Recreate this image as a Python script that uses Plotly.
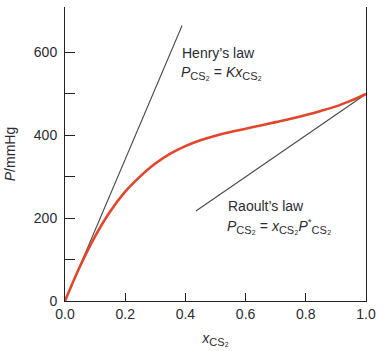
import plotly.graph_objects as go

# Vapour pressure of CS2 over a CS2 solution vs. its mole fraction
x_cs2 = [0.0, 0.05, 0.10, 0.15, 0.20, 0.25, 0.30, 0.35, 0.40, 0.45, 0.50,
         0.55, 0.60, 0.65, 0.70, 0.75, 0.80, 0.85, 0.90, 0.95, 1.0]
p_cs2 = [0, 84, 156, 216, 264, 301, 332, 356, 374, 388, 399,
         408, 416, 424, 432, 440, 449, 459, 470, 484, 500]

# Henry's law limiting line P = K x (ideal-dilute) and Raoult's law P = x P*
henry_K = 1710
henry_x = [0.0, 0.389]
raoult_pstar = 500
raoult_x = [0.435, 1.0]

x_ticks = [0.0, 0.2, 0.4, 0.6, 0.8, 1.0]
y_ticks = [0, 100, 200, 300, 400, 500, 600]
y_ticktext = ["0", "", "200", "", "400", "", "600"]

FONT = "Liberation Sans, Arial, sans-serif"
TXT = "#2b2b33"
SUB = "<sub><span style='font-size:11px'>CS₂</span></sub>"

fig = go.Figure()
fig.add_trace(go.Scatter(x=henry_x, y=[henry_K * v for v in henry_x], mode="lines",
                         line=dict(color="#4a4a4a", width=1.1), hoverinfo="skip"))
fig.add_trace(go.Scatter(x=raoult_x, y=[raoult_pstar * v for v in raoult_x], mode="lines",
                         line=dict(color="#4a4a4a", width=1.1), hoverinfo="skip"))
fig.add_trace(go.Scatter(x=x_cs2, y=p_cs2, mode="lines",
                         line=dict(color="#e2452b", width=2.6, shape="spline", smoothing=1.0),
                         hoverinfo="skip"))

def label(x, y, text):
    fig.add_annotation(x=x, y=y, text=text, showarrow=False, xanchor="left",
                       yanchor="middle", font=dict(family=FONT, size=14, color=TXT))

label(0.382, 598, "Henry’s law")
label(0.379, 550, f"<i>P</i>{SUB} = <i>Kx</i>{SUB}")
label(0.536, 229, "Raoult’s law")
label(0.533, 181, f"<i>P</i>{SUB} = <i>x</i>{SUB}<i>P</i><sup>*</sup>{SUB}")

fig.update_layout(
    width=383, height=351,
    margin=dict(l=65, r=12, t=7, b=46),
    paper_bgcolor="white", plot_bgcolor="white",
    showlegend=False,
    font=dict(family=FONT, size=14, color=TXT),
    xaxis=dict(range=[0, 1.0], tickvals=x_ticks, ticktext=[f"{v:.1f}" for v in x_ticks],
               ticks="inside", ticklen=8, tickwidth=1, tickcolor="#222",
               showline=True, linecolor="#222", linewidth=1, mirror=False,
               showgrid=False, zeroline=False,
               title=dict(text=f"<i>x</i>{SUB}", standoff=12,
                          font=dict(family=FONT, size=14, color=TXT))),
    yaxis=dict(range=[0, 710], tickvals=y_ticks, ticktext=y_ticktext,
               ticks="inside", ticklen=10, tickwidth=1, tickcolor="#222",
               showline=True, linecolor="#222", linewidth=1, mirror=True,
               showgrid=False, zeroline=False, ticklabelstandoff=4,
               title=dict(text="<i>P</i>/mmHg", standoff=14,
                          font=dict(family=FONT, size=14, color=TXT))),
)

fig.write_html("out.html")
